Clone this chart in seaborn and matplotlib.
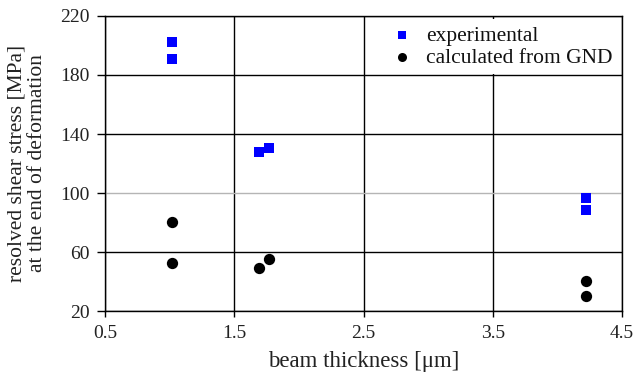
import matplotlib
matplotlib.use("Agg")
import matplotlib.pyplot as plt
import seaborn as sns
import pandas as pd

# data
exp_x = [1.02, 1.02, 1.69, 1.77, 4.22, 4.22]
exp_y = [202, 191, 127.5, 130.5, 96.5, 88.3]
gnd_x = [1.02, 1.02, 1.69, 1.77, 4.22, 4.22]
gnd_y = [80.5, 53, 49.5, 55.5, 40.5, 30.6]
x_ticks = [0.5, 1.5, 2.5, 3.5, 4.5]
y_ticks = [20, 60, 100, 140, 180, 220]
series_names = ["experimental", "calculated from GND"]

sns.set_style("white")
plt.rcParams['font.family'] = ['Liberation Serif', 'DejaVu Serif']

fig = plt.figure(figsize=(6.34, 3.76), dpi=100)
ax = fig.add_axes([0.166, 0.172, 0.815, 0.786])

df_exp = pd.DataFrame({"x": exp_x, "y": exp_y})
df_gnd = pd.DataFrame({"x": gnd_x, "y": gnd_y})
sns.scatterplot(data=df_exp, x="x", y="y", ax=ax, marker="s", color="#0000ff",
                s=56, linewidth=0, label=series_names[0], zorder=3)
sns.scatterplot(data=df_gnd, x="x", y="y", ax=ax, marker="o", color="black",
                s=66, linewidth=0, label=series_names[1], zorder=3)

ax.set_xlim(0.5, 4.5)
ax.set_ylim(20, 220)
ax.set_xticks(x_ticks)
ax.set_yticks(y_ticks)
ax.set_xticklabels([str(v) for v in x_ticks])
ax.set_yticklabels([str(v) for v in y_ticks])
ax.tick_params(axis='both', direction='out', width=1, color='black',
               labelsize=14, labelcolor='#222222')
ax.tick_params(axis='y', length=6, pad=5)
ax.tick_params(axis='x', length=4, pad=6)
ax.tick_params(left=True, bottom=True)

ax.set_axisbelow(True)
ax.grid(True, color='black', linewidth=1.0)
for i, gl in enumerate(ax.get_ygridlines()):
    if y_ticks[i] == 100:
        gl.set_color('#b5b5b5')

for sp in ax.spines.values():
    sp.set_visible(True)
    sp.set_color('black')
    sp.set_linewidth(1.0)

ax.set_xlabel("beam thickness [μm]", fontsize=16.5, labelpad=6, color='#222222')
ax.set_ylabel("resolved shear stress [MPa]\nat the end of deformation", fontsize=15.5,
              labelpad=10, linespacing=1.05, color='#222222')

leg = ax.legend(loc='upper right', frameon=True, fancybox=False, fontsize=15.5,
                markerscale=0.8, handletextpad=0.1, borderpad=0.3, labelspacing=0.1,
                borderaxespad=0.15)
leg.get_frame().set_facecolor('white')
leg.get_frame().set_edgecolor('none')
leg.get_frame().set_alpha(1)
for t in leg.get_texts():
    t.set_color('#111111')

fig.savefig("out.png", dpi=100)
